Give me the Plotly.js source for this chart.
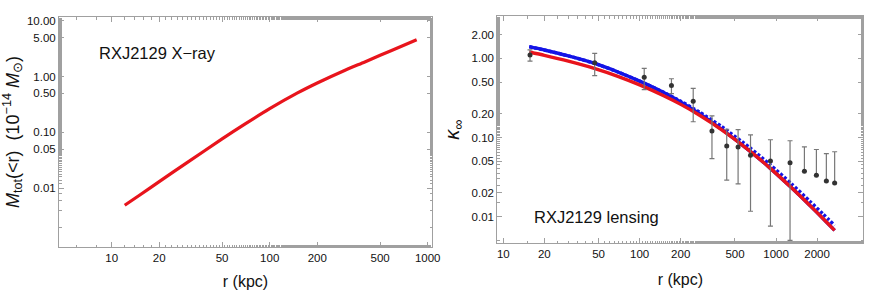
<!DOCTYPE html>
<html>
<head>
<meta charset="utf-8">
<script src="https://cdn.plot.ly/plotly-3.0.1.min.js"></script>
<style>html,body{margin:0;padding:0;background:#fff}</style>
</head>
<body>
<div id="chart" style="width:872px;height:290px"></div>
<script>
// ---- Left panel: X-ray total mass profile ----
const xrayR = [12.1, 15, 20, 30, 50, 70, 100, 150, 200, 300, 400, 500, 700, 851];
const xrayM = [0.00497, 0.00753, 0.01318, 0.02884, 0.0766, 0.1419, 0.266, 0.509, 0.767, 1.300, 1.828, 2.399, 3.606, 4.560];

// ---- Right panel: lensing convergence ----
const lensR = [15.5, 20, 30, 47, 70, 100, 150, 200, 275, 400, 640, 900, 1300, 1766, 2200, 2690];
const kappaRed = [1.202, 1.091, 0.920, 0.741, 0.589, 0.462, 0.337, 0.262, 0.191, 0.125, 0.0678, 0.0413, 0.0231, 0.0139, 0.00955, 0.00671];
const kappaBlue = [1.403, 1.274, 1.074, 0.861, 0.668, 0.515, 0.370, 0.282, 0.1995, 0.1265, 0.0678, 0.0413, 0.0231, 0.0139, 0.00955, 0.00671];
const kappaBlueDash = [1.403, 1.274, 1.074, 0.861, 0.668, 0.515, 0.372, 0.287, 0.209, 0.137, 0.0746, 0.0458, 0.0259, 0.0157, 0.0109, 0.00774];

// data points with symmetric errors
const dataR = [15.7, 46.8, 108, 171, 247, 339, 435, 527, 650, 910, 1267];
const dataK = [1.10, 0.88, 0.575, 0.455, 0.288, 0.121, 0.078, 0.076, 0.0597, 0.0506, 0.048];
const dataErr = [0.18, 0.275, 0.172, 0.097, 0.13, 0.067, 0.049, 0.05, 0.048, 0.043, 0.043];
// points whose lower error reaches below zero (only upper bar visible)
const dataR2 = [1615, 1977, 2339, 2691];
const dataK2 = [0.0374, 0.0333, 0.0282, 0.0266];
const dataErr2 = [0.0386, 0.0372, 0.0345, 0.0394];

// ticks
const leftXTicks = [10, 20, 50, 100, 200, 500, 1000];
const leftYTicks = [0.01, 0.05, 0.1, 0.5, 1, 5, 10];
const leftYText = ['0.01', '0.05', '0.10', '0.50', '1.00', '5.00', '10.00'];
const rightXTicks = [10, 20, 50, 100, 200, 500, 1000, 2000];
const rightYTicks = [0.01, 0.02, 0.05, 0.1, 0.2, 0.5, 1, 2];
const rightYText = ['0.01', '0.02', '0.05', '0.10', '0.20', '0.50', '1.00', '2.00'];

const FONT = 'Liberation Sans, Arial, Helvetica, sans-serif';
const frameColor = '#a0a0a0';
const red = '#e8141c';
const blue = '#1414e6';

const traces = [
  {x: xrayR, y: xrayM, xaxis: 'x', yaxis: 'y', mode: 'lines',
   line: {color: red, width: 3.2, shape: 'spline', smoothing: 0.8}, hoverinfo: 'skip'},
  {x: lensR, y: kappaBlue, xaxis: 'x2', yaxis: 'y2', mode: 'lines',
   line: {color: blue, width: 3.4, shape: 'spline', smoothing: 0.6}},
  {x: lensR, y: kappaBlueDash, xaxis: 'x2', yaxis: 'y2', mode: 'lines',
   line: {color: blue, width: 3.4, dash: '3px,2px', shape: 'spline', smoothing: 0.6}},
  {x: lensR, y: kappaRed, xaxis: 'x2', yaxis: 'y2', mode: 'lines',
   line: {color: red, width: 3.4, shape: 'spline', smoothing: 0.6}},
  {x: dataR, y: dataK, xaxis: 'x2', yaxis: 'y2', mode: 'markers',
   marker: {color: '#333333', size: 5},
   error_y: {type: 'data', array: dataErr, visible: true, color: '#777777', thickness: 1.2, width: 2.5}},
  {x: dataR2, y: dataK2, xaxis: 'x2', yaxis: 'y2', mode: 'markers',
   marker: {color: '#333333', size: 5},
   error_y: {type: 'data', symmetric: false, array: dataErr2, arrayminus: [0, 0, 0, 0], visible: true, color: '#777777', thickness: 1.2, width: 2.5}}
];

function axisBase() {
  return {
    type: 'log', showgrid: false, zeroline: false,
    showline: true, linecolor: frameColor, linewidth: 1, mirror: 'allticks',
    ticks: 'inside', ticklen: 5, tickwidth: 1, tickcolor: frameColor,
    tickfont: {family: FONT, size: 11.5, color: '#111'},
    minor: {ticks: 'inside', ticklen: 2.5, tickcolor: frameColor, showgrid: false},
    tickmode: 'array'
  };
}

const layout = {
  width: 872, height: 290,
  margin: {l: 0, r: 0, t: 0, b: 0},
  paper_bgcolor: '#fff', plot_bgcolor: '#fff',
  showlegend: false,
  font: {family: FONT, color: '#111'},
  xaxis: Object.assign(axisBase(), {
    domain: [59/872, 432/872], range: [0.667, 3.027], anchor: 'y',
    tickvals: leftXTicks, ticktext: leftXTicks.map(String),
    title: {text: 'r (kpc)', font: {family: FONT, size: 16, color: '#111'}, standoff: 14}
  }),
  yaxis: Object.assign(axisBase(), {
    domain: [(290-247)/290, (290-17)/290], range: [-3.05, 1.066], anchor: 'x',
    tickvals: leftYTicks, ticktext: leftYText,
    title: {text: '<i>M</i><sub>tot</sub>(&lt;r)  (10<sup>\u221214</sup> <i>M</i><sub>\u2299</sub>)', font: {family: FONT, size: 18, color: '#111'}, standoff: 6}
  }),
  xaxis2: Object.assign(axisBase(), {
    domain: [497.3/872, 863.3/872], range: [0.956, 3.64], anchor: 'y2',
    tickvals: rightXTicks, ticktext: rightXTicks.map(String),
    title: {text: 'r (kpc)', font: {family: FONT, size: 16, color: '#111'}, standoff: 14}
  }),
  yaxis2: Object.assign(axisBase(), {
    domain: [(290-243.3)/290, (290-16)/290], range: [-2.337, 0.535], anchor: 'x2',
    tickvals: rightYTicks, ticktext: rightYText,
    title: {text: '<i>\u03ba</i><sub>\u221e</sub>', font: {family: FONT, size: 20, color: '#111'}, standoff: 6}
  }),
  annotations: [
    {text: 'RXJ2129 X\u2212ray', xref: 'paper', yref: 'paper', x: 97/872, y: (290-53)/290,
     xanchor: 'left', yanchor: 'middle', showarrow: false, font: {family: FONT, size: 16.5, color: '#111'}},
    {text: 'RXJ2129 lensing', xref: 'paper', yref: 'paper', x: 532/872, y: (290-217)/290,
     xanchor: 'left', yanchor: 'middle', showarrow: false, font: {family: FONT, size: 16.5, color: '#111'}}
  ]
};

Plotly.newPlot('chart', traces, layout, {displayModeBar: false, staticPlot: true});
</script>
</body>
</html>
